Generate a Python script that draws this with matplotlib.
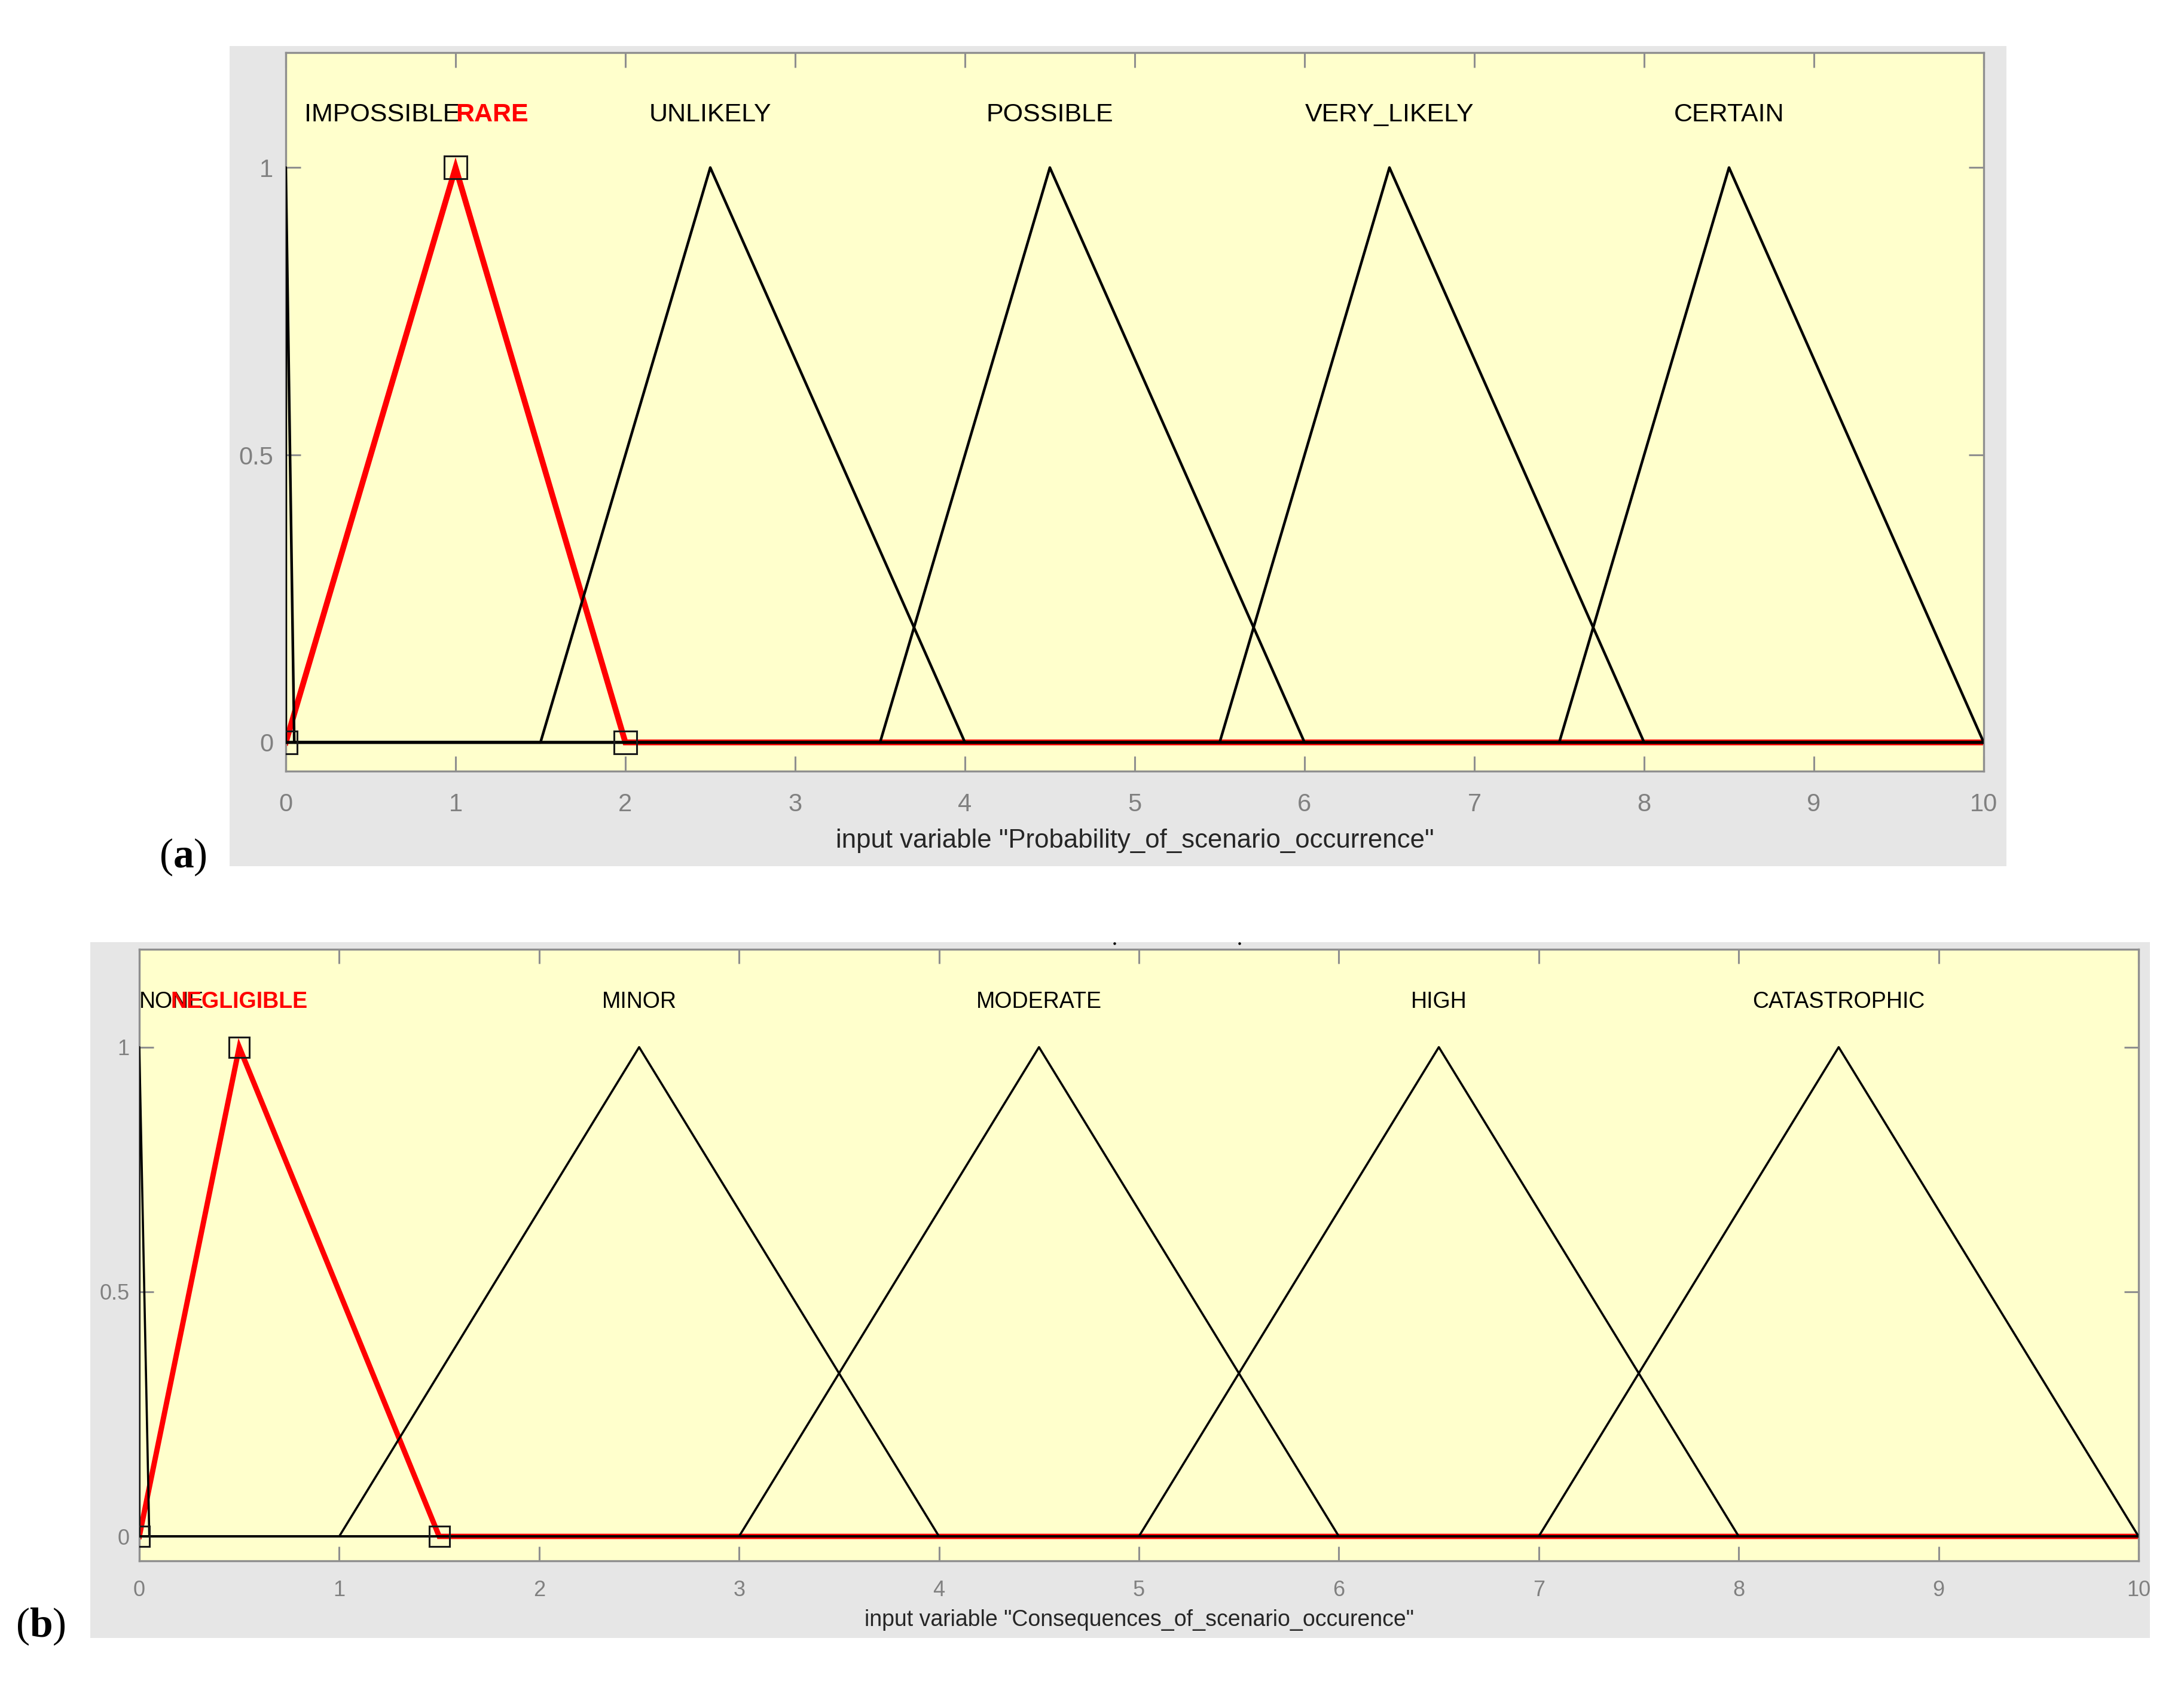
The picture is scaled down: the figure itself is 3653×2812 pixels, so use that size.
import matplotlib
matplotlib.use("Agg")
import matplotlib.pyplot as plt
from matplotlib.patches import Rectangle
from matplotlib.lines import Line2D
import numpy as np

# membership functions (triangular: a, b, c)
prob_names = ["IMPOSSIBLE", "RARE", "UNLIKELY", "POSSIBLE", "VERY_LIKELY", "CERTAIN"]
prob_params = [[0, 0, 0.05], [0, 1, 2], [1.5, 2.5, 4], [3.5, 4.5, 6], [5.5, 6.5, 8], [7.5, 8.5, 10]]
prob_selected = 1
prob_label = 'input variable "Probability_of_scenario_occurrence"'

cons_names = ["NONE", "NEGLIGIBLE", "MINOR", "MODERATE", "HIGH", "CATASTROPHIC"]
cons_params = [[0, 0, 0.05], [0, 0.5, 1.5], [1, 2.5, 4], [3, 4.5, 6], [5, 6.5, 8], [7, 8.5, 10]]
cons_selected = 1
cons_label = 'input variable "Consequences_of_scenario_occurence"'

x_range = [0, 10]
x_ticks = list(range(0, 11))
y_ticks = [0, 0.5, 1]
y_tick_labels = ["0", "0.5", "1"]

W, H = 3653, 2812
FONT = ["Liberation Sans", "DejaVu Sans"]
GRAY_BG = "#e6e6e6"
FACE = "#ffffcc"
SPINE = "#8f8f8f"
TICK_TXT = "#808080"

plt.rcParams["mathtext.fontset"] = "custom"
plt.rcParams["mathtext.rm"] = "Liberation Serif"
plt.rcParams["mathtext.bf"] = "Liberation Serif:bold"

fig = plt.figure(figsize=(W / 100, H / 100), dpi=100, facecolor="white")


def fx(px):
    return px / W


def fy(py):
    return 1 - py / H


def mf_polyline(params):
    a, b, c = params
    xs = [x_range[0], a, b, c, x_range[1]]
    ys = [0, 0, 1, 0, 0]
    return xs, ys


def draw_panel(box, bg, names, params, selected, xlabel, label_places, s):
    # gray background behind the axes, like the MATLAB window
    fig.patches.append(Rectangle((fx(bg[0]), fy(bg[3])), fx(bg[2] - bg[0]), (bg[3] - bg[1]) / H,
                                 transform=fig.transFigure, facecolor=GRAY_BG,
                                 edgecolor="none", zorder=-5))
    ax = fig.add_axes([fx(box[0]), fy(box[3]), fx(box[2] - box[0]), (box[3] - box[1]) / H])
    ax.set_zorder(1)
    ax.set_facecolor(FACE)
    ax.set_xlim(*x_range)
    ax.set_ylim(-0.05, 1.2)

    sel_x, sel_y = mf_polyline(params[selected])
    ax.plot(sel_x, sel_y, color="#ff0000", lw=s["red_lw"], solid_joinstyle="miter", zorder=2)
    for i, p in enumerate(params):
        if i == selected:
            continue
        xs, ys = mf_polyline(p)
        ax.plot(xs, ys, color="black", lw=s["black_lw"], zorder=3)
    sq = params[selected]
    ax.plot(sq, [0, 1, 0], ls="none", marker="s", ms=s["ms"], mfc="none",
            mec="#1a1a1a", mew=2.2, zorder=4)

    for i, name in enumerate(names):
        x, ha = label_places.get(i, (params[i][1], "center"))
        red = i == selected
        ax.text(x, 1.092, name, ha=ha, va="center", family=FONT, fontsize=s["lab_fs"],
                color="#ff0000" if red else "black",
                fontweight="bold" if red else "normal", zorder=5)

    ax.set_xticks(x_ticks)
    ax.set_yticks(y_ticks)
    ax.set_yticklabels(y_tick_labels)
    ax.tick_params(axis="both", direction="in", length=s["tick_len"], width=2.2,
                   color=SPINE, labelcolor=TICK_TXT, labelsize=s["tick_fs"],
                   top=True, right=True)
    ax.tick_params(axis="x", pad=s["xpad"])
    ax.tick_params(axis="y", pad=s["ypad"])
    for lab in ax.get_xticklabels() + ax.get_yticklabels():
        lab.set_family(FONT)
    for sp in ax.spines.values():
        sp.set_color(SPINE)
        sp.set_linewidth(2.4)
    ax.set_xlabel(xlabel, family=FONT, fontsize=s["xl_fs"], color="#262626")
    ax.xaxis.label.set_va("center")
    ax.xaxis.set_label_coords(0.5, s["xl_y"])
    return ax


draw_panel(box=(478, 88, 3318, 1290), bg=(384, 77, 3356, 1449),
           names=prob_names, params=prob_params, selected=prob_selected,
           xlabel=prob_label,
           label_places={0: (0.11, "left"), 1: (1.0, "left")},
           s=dict(red_lw=7.0, black_lw=3.2, ms=28, lab_fs=31, tick_fs=30, tick_len=18,
                  xpad=26, ypad=15, xl_fs=31.5, xl_y=-0.0973))

draw_panel(box=(233, 1588, 3577, 2611), bg=(151, 1576, 3596, 2740),
           names=cons_names, params=cons_params, selected=cons_selected,
           xlabel=cons_label,
           label_places={0: (0.0, "left")},
           s=dict(red_lw=6.4, black_lw=2.6, ms=24, lab_fs=27, tick_fs=26, tick_len=17,
                  xpad=23, ypad=12, xl_fs=27, xl_y=-0.0968))

# leftover dots above the lower panel
fig.lines.append(Line2D([fx(1864), fx(2073)], [fy(1578), fy(1578)], transform=fig.transFigure,
                        ls="none", marker="o", ms=2.2, color="black"))

fig.text(fx(306), fy(1434), r"($\mathbf{a}$)", ha="center", va="center",
         family="Liberation Serif", fontsize=50)
fig.text(fx(68), fy(2721), r"($\mathbf{b}$)", ha="center", va="center",
         family="Liberation Serif", fontsize=50)

fig.savefig("out.png", dpi=100, facecolor="white")
